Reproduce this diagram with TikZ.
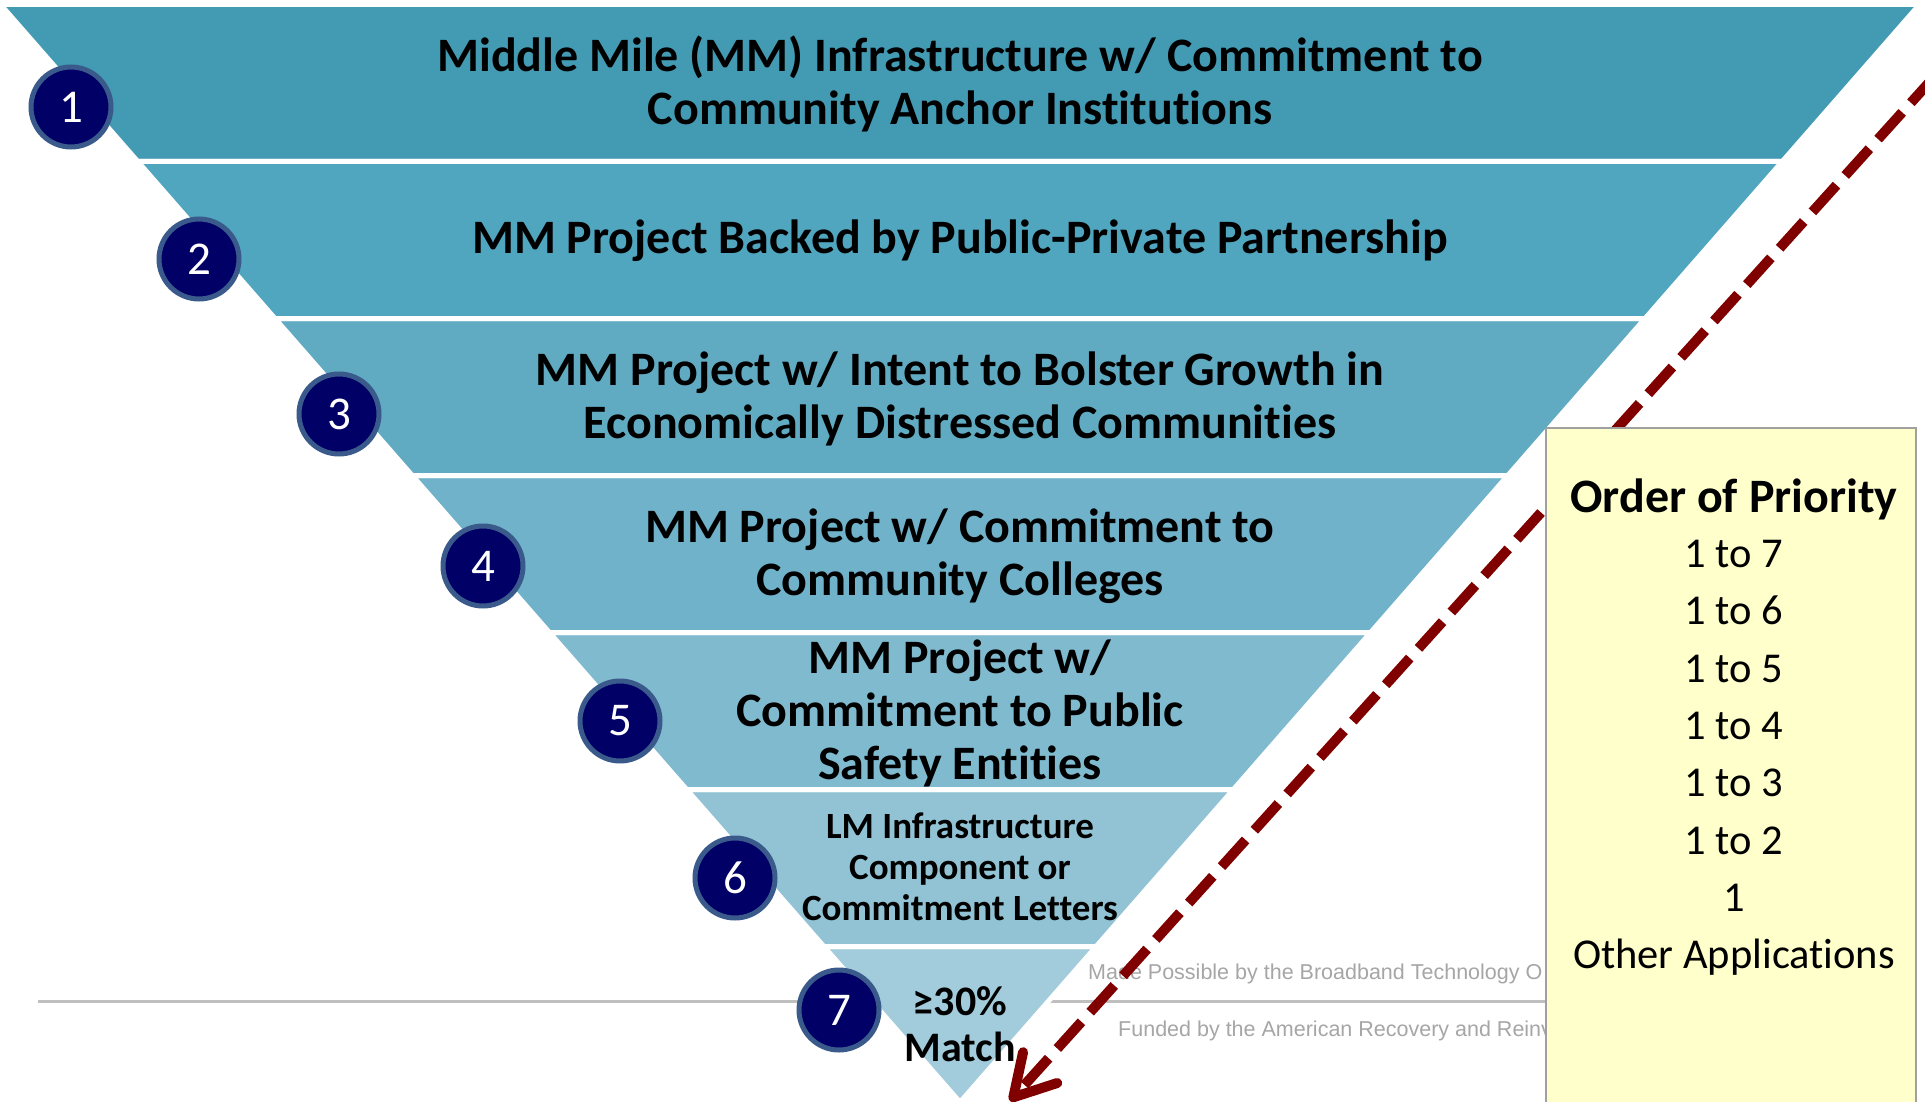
\documentclass[tikz,border=0pt]{standalone}
\usepackage{fontspec}
\setmainfont[Ligatures=NoCommon]{Carlito}
\newfontfamily\footfont{Liberation Sans}
\usetikzlibrary{arrows.meta}
\definecolor{bandA}{HTML}{439AB3}
\definecolor{bandB}{HTML}{50A5BF}
\definecolor{bandC}{HTML}{60AAC2}
\definecolor{bandD}{HTML}{6FB2C9}
\definecolor{bandE}{HTML}{80BACF}
\definecolor{bandF}{HTML}{92C3D5}
\definecolor{bandG}{HTML}{A2CBDB}
\definecolor{navyfill}{HTML}{000066}
\definecolor{navyring}{HTML}{3A5A8C}
\definecolor{darkred}{HTML}{800000}
\definecolor{footgray}{HTML}{A6A6A6}
\definecolor{linegray}{HTML}{BFBFBF}
\definecolor{noteyellow}{HTML}{FFFFCC}
\definecolor{noteborder}{HTML}{A0A0A0}
\begin{document}
\begin{tikzpicture}[x=1pt,y=-1pt,
  bandtext/.style={font=\bfseries\fontsize{48}{53}\selectfont, align=center, text=black, inner sep=0pt},
  smalltext/.style={font=\bfseries\fontsize{37}{41}\selectfont, align=center, text=black, inner sep=0pt},
  matchtext/.style={font=\bfseries\fontsize{42}{46}\selectfont, align=center, text=black, inner sep=0pt},
  numcirc/.style={circle, fill=navyfill, draw=navyring, line width=5pt, minimum size=80pt, inner sep=0pt, text=white, font=\fontsize{47}{50}\selectfont},
  foottext/.style={font=\footfont\fontsize{21.5}{25}\selectfont, text=footgray, inner sep=0pt, anchor=base west},
  grayline/.style={draw=linegray, line width=3pt},
  arrowline/.style={draw=darkred, line width=10pt, dash pattern=on 36pt off 13pt, -{Straight Barb[length=40pt,width=46pt,round]}},
  notebox/.style={fill=noteyellow, draw=noteborder, line width=2pt},
  notetext/.style={font=\fontsize{42.5}{57.3}\selectfont, align=center, text=black, inner sep=0pt, anchor=north}
]
\useasboundingbox[fill=white] (0,0) rectangle (1925,1102);

% footer rule (behind funnel)
\coordinate (gl1) at (38,1001);
\coordinate (gl2) at (1548,1001);
\draw[grayline] (gl1) -- (gl2);

% funnel bands: fills
\foreach \i/\col in {0/bandA,1/bandB,2/bandC,3/bandD,4/bandE,5/bandF} {
  \pgfmathsetmacro\ya{4.5+157*\i}
  \pgfmathsetmacro\yb{\ya+157}
  \pgfmathsetmacro\ha{0.874*(1102.3-\ya)}
  \pgfmathsetmacro\hb{0.874*(1102.3-\yb)}
  \fill[\col] (960-\ha,\ya) -- (960+\ha,\ya) -- (960+\hb,\yb) -- (960-\hb,\yb) -- cycle;
}
\pgfmathsetmacro\hg{0.874*(1102.3-946.5)}
\fill[bandG] (960-\hg,946.5) -- (960+\hg,946.5) -- (960,1102.3) -- cycle;
% funnel bands: white separators
\foreach \i in {0,...,5} {
  \pgfmathsetmacro\ya{4.5+157*\i}
  \pgfmathsetmacro\yb{\ya+157}
  \pgfmathsetmacro\ha{0.874*(1102.3-\ya)}
  \pgfmathsetmacro\hb{0.874*(1102.3-\yb)}
  \draw[white, line width=5pt] (960-\ha,\ya) -- (960+\ha,\ya) -- (960+\hb,\yb) -- (960-\hb,\yb) -- cycle;
}
\draw[white, line width=5pt] (960-\hg,946.5) -- (960+\hg,946.5) -- (960,1102.3) -- cycle;

% band texts
\node[bandtext] (t1) at (960,84) {Middle Mile (MM) Infrastructure w/ Commitment to\\Community Anchor Institutions};
\node[bandtext] (t2) at (960,241) {MM Project Backed by Public-Private Partnership};
\node[bandtext] (t3) at (960,399) {MM Project w/ Intent to Bolster Growth in\\Economically Distressed Communities};
\node[bandtext] (t4) at (960,556) {MM Project w/ Commitment to\\Community Colleges};
\node[bandtext] (t5) at (960,713) {MM Project w/\\Commitment to Public\\Safety Entities};
\node[smalltext] (t6) at (960,867) {LM Infrastructure\\Component or\\Commitment Letters};
\node[matchtext] (t7) at (960,1024) {≥30\%\\Match};

% number circles
\node[numcirc] (c1) at (71,107) {1};
\node[numcirc] (c2) at (199,259) {2};
\node[numcirc] (c3) at (339,414) {3};
\node[numcirc] (c4) at (483,566) {4};
\node[numcirc] (c5) at (620,721) {5};
\node[numcirc] (c6) at (735,878) {6};
\node[numcirc] (c7) at (839,1010) {7};

% footer texts
\node[foottext] (f1) at (1088,979) {Made Possible by the Broadband Technology O};
\node[foottext] (f2) at (1118,1036) {Funded by the American Recovery and Reinv};

% dashed arrow
\coordinate (astart) at (1935,76);
\coordinate (aend) at (1010,1101);
\draw[arrowline] (astart) -- (aend);

% priority box
\draw[notebox] (1546,428) rectangle (1916,1115);
\node[notetext] (prio) at (1734,478.5) {{\bfseries\fontsize{48}{57.5}\selectfont Order of Priority}\\[-2pt]1 to 7\\1 to 6\\1 to 5\\1 to 4\\1 to 3\\1 to 2\\1\\Other Applications};
\end{tikzpicture}
\end{document}
